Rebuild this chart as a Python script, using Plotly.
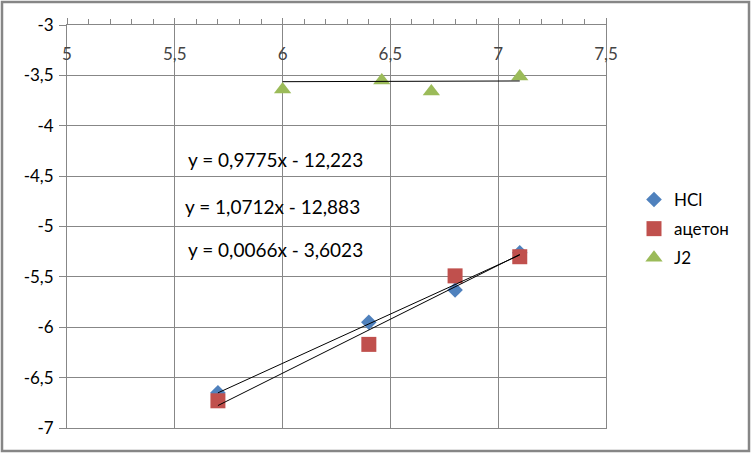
import plotly.graph_objects as go

# ---- data ----
x_hcl = [5.7, 6.4, 6.8, 7.1]
y_hcl = [-6.65, -5.95, -5.63, -5.26]
x_acetone = [5.7, 6.4, 6.8, 7.1]
y_acetone = [-6.73, -6.17, -5.49, -5.30]
x_j2 = [6.0, 6.46, 6.69, 7.1]
y_j2 = [-3.64, -3.55, -3.66, -3.51]

series_names = ["HCl", "ацетон", "J2"]
trend_slopes = [0.9775, 1.0712, 0.0066]
trend_intercepts = [-12.223, -12.883, -3.6023]
equation_labels = ["y = 0,9775x - 12,223", "y = 1,0712x - 12,883", "y = 0,0066x - 3,6023"]

x_tick_vals = [5, 5.5, 6, 6.5, 7, 7.5]
x_tick_labels = ["5", "5,5", "6", "6,5", "7", "7,5"]
y_tick_vals = [-3, -3.5, -4, -4.5, -5, -5.5, -6, -6.5, -7]
y_tick_labels = ["-3", "-3,5", "-4", "-4,5", "-5", "-5,5", "-6", "-6,5", "-7"]

# ---- styles ----
FONT = "Lato, 'Open Sans', sans-serif"
GRID = "#878787"
colors = ["#4F81BD", "#C0504D", "#9BBB59"]
symbols = ["diamond", "square", "triangle-up"]
sizes = [12, 15, 15]

xs = [x_hcl, x_acetone, x_j2]
ys = [y_hcl, y_acetone, y_j2]

fig = go.Figure()

for i in range(3):
    fig.add_trace(go.Scatter(
        x=xs[i], y=ys[i], mode="markers", name=series_names[i],
        legendgroup=series_names[i],
        marker=dict(symbol=symbols[i], size=sizes[i], color=colors[i], line=dict(width=0)),
    ))

for i in range(3):
    x0, x1 = min(xs[i]), max(xs[i])
    fig.add_trace(go.Scatter(
        x=[x0, x1],
        y=[trend_slopes[i] * x0 + trend_intercepts[i], trend_slopes[i] * x1 + trend_intercepts[i]],
        mode="lines", line=dict(color="black", width=1), showlegend=False, hoverinfo="skip",
    ))

eq_pos = [(5.965, -4.33), (5.955, -4.806), (5.965, -5.228)]
for (ex, ey), txt in zip(eq_pos, equation_labels):
    fig.add_annotation(x=ex, y=ey, xref="x", yref="y", text=txt, showarrow=False,
                       font=dict(family=FONT, size=19, color="black"))

W, H = 753, 454
ml, mr, mt, mb = 67, 147, 25, 26
pw, ph = W - ml - mr, H - mt - mb

# outer chart border
fig.add_shape(type="rect", xref="paper", yref="paper",
              x0=(2 - ml) / pw, x1=(749 - ml) / pw,
              y0=(H - mb - 451) / ph, y1=(H - mb - 2) / ph,
              line=dict(color="#868686", width=2.5), fillcolor="rgba(0,0,0,0)", layer="below")

fig.update_layout(
    width=W, height=H,
    margin=dict(l=ml, r=mr, t=mt, b=mb),
    paper_bgcolor="white", plot_bgcolor="white",
    separators=", ",
    font=dict(family=FONT, size=17, color="black"),
    showlegend=True,
    legend=dict(x=(634 - ml) / pw, y=(H - mb - 182) / ph, xanchor="left", yanchor="top",
                font=dict(family=FONT, size=17, color="black"),
                itemwidth=30,
                tracegroupgap=4, bgcolor="rgba(0,0,0,0)"),
    xaxis=dict(range=[5, 7.5], side="top", tickvals=x_tick_vals, ticktext=x_tick_labels,
               ticklabelposition="inside", ticklabelstandoff=24, ticklabeloverflow="allow",
               showgrid=True, gridcolor=GRID, gridwidth=1,
               showline=True, linecolor=GRID, linewidth=1, mirror=True,
               ticks="outside", ticklen=6, tickcolor=GRID,
               minor=dict(dtick=0.1, ticks="outside", ticklen=5, tickcolor=GRID, showgrid=False),
               zeroline=False),
    yaxis=dict(range=[-7, -3], tickvals=y_tick_vals, ticktext=y_tick_labels,
               showgrid=True, gridcolor=GRID, gridwidth=1,
               showline=True, linecolor=GRID, linewidth=1, mirror=True,
               ticks="outside", ticklen=7, tickcolor=GRID, ticklabelstandoff=2,
               ticklabeloverflow="allow",
               zeroline=False),
)

fig.write_html("out.html", config={"displayModeBar": False},
               post_script="document.body.style.margin='0';document.body.style.padding='0';")
